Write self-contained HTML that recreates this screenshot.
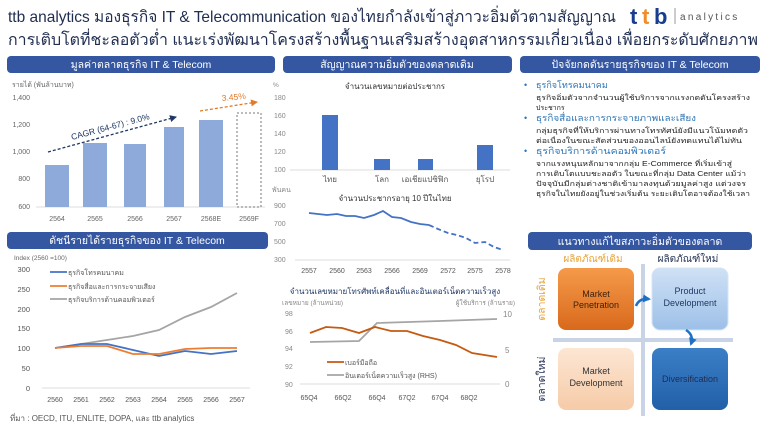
<!DOCTYPE html>
<html><head><meta charset="utf-8"><style>
html,body{margin:0;padding:0;background:#fff;}
svg{display:block;font-family:"Liberation Sans","DejaVu Sans",sans-serif;}
</style></head><body>
<svg width="768" height="429" viewBox="0 0 768 429" xmlns="http://www.w3.org/2000/svg">
<defs>
<linearGradient id="og" x1="0" y1="0" x2="0" y2="1"><stop offset="0" stop-color="#f59a4a"/><stop offset="1" stop-color="#d9691c"/></linearGradient>
<linearGradient id="lb" x1="0" y1="0" x2="0" y2="1"><stop offset="0" stop-color="#cfe1f5"/><stop offset="1" stop-color="#9dc0e8"/></linearGradient>
<linearGradient id="pe" x1="0" y1="0" x2="0" y2="1"><stop offset="0" stop-color="#fde6d3"/><stop offset="1" stop-color="#f6cba8"/></linearGradient>
<linearGradient id="db" x1="0" y1="0" x2="0" y2="1"><stop offset="0" stop-color="#3b7fc7"/><stop offset="1" stop-color="#2260a8"/></linearGradient>
<marker id="ah" markerUnits="userSpaceOnUse" markerWidth="7" markerHeight="7" refX="6" refY="3.5" orient="auto"><path d="M0,0 L7,3.5 L0,7z" fill="#1f3864"/></marker>
<marker id="ab" markerUnits="userSpaceOnUse" markerWidth="8" markerHeight="8" refX="6" refY="4" orient="auto"><path d="M0,0 L8,4 L0,8z" fill="#1f6fc5"/></marker>
<marker id="ao" markerUnits="userSpaceOnUse" markerWidth="7" markerHeight="7" refX="6" refY="3.5" orient="auto"><path d="M0,0 L7,3.5 L0,7z" fill="#e07b2a"/></marker>
</defs>
<!-- Title -->
<text x="8" y="22" font-size="16" fill="#1f2d50" textLength="608" lengthAdjust="spacingAndGlyphs">ttb analytics มองธุรกิจ IT &amp; Telecommunication ของไทยกำลังเข้าสู่ภาวะอิ่มตัวตามสัญญาณ</text>
<text x="8" y="45" font-size="16" fill="#1f2d50" textLength="750" lengthAdjust="spacingAndGlyphs">การเติบโตที่ชะลอตัวต่ำ แนะเร่งพัฒนาโครงสร้างพื้นฐานเสริมสร้างอุตสาหกรรมเกี่ยวเนื่อง เพื่อยกระดับศักยภาพ</text>
<text x="630" y="24" font-size="22" font-weight="bold" fill="#1a3c8f">t</text><text x="642" y="24" font-size="22" font-weight="bold" fill="#f28c28">t</text><text x="654" y="24" font-size="22" font-weight="bold" fill="#1a3c8f">b</text>
<line x1="675" y1="8" x2="675" y2="24" stroke="#999"/>
<text x="680" y="20" font-size="10" fill="#555" letter-spacing="2.3">analytics</text>
<!-- Section bars -->
<g fill="#3557a1">
<rect x="7" y="56" width="268" height="17" rx="4"/>
<rect x="283" y="56" width="229" height="17" rx="4"/>
<rect x="520" y="56" width="240" height="17" rx="4"/>
<rect x="7" y="232" width="261" height="17" rx="4"/>
<rect x="528" y="232" width="224" height="18" rx="4"/>
</g>
<g fill="#fff" font-size="10.5" text-anchor="middle">
<text x="141" y="68">มูลค่าตลาดธุรกิจ IT &amp; Telecom</text>
<text x="397" y="68">สัญญาณความอิ่มตัวของตลาดเดิม</text>
<text x="640" y="68">ปัจจัยกดดันรายธุรกิจของ IT &amp; Telecom</text>
<text x="137" y="244">ดัชนีรายได้รายธุรกิจของ IT &amp; Telecom</text>
<text x="640" y="245">แนวทางแก้ไขสภาวะอิ่มตัวของตลาด</text>
</g>
<!-- Chart 1 -->
<g font-size="7" fill="#666">
<text x="12" y="87">รายได้ (พันล้านบาท)</text>
<g text-anchor="end"><text x="30" y="100">1,400</text><text x="30" y="127">1,200</text><text x="30" y="154">1,000</text><text x="30" y="181">800</text><text x="30" y="209">600</text></g>
<g text-anchor="middle"><text x="57" y="221">2564</text><text x="95" y="221">2565</text><text x="135" y="221">2566</text><text x="174" y="221">2567</text><text x="211" y="221">2568E</text><text x="249" y="221">2569F</text></g>
</g>
<line x1="36" y1="207" x2="265" y2="207" stroke="#ddd"/>
<g fill="#8eaadb">
<rect x="45" y="165" width="24" height="42"/><rect x="83" y="143" width="24" height="64"/><rect x="124" y="144" width="22" height="63"/><rect x="164" y="127" width="20" height="80"/><rect x="199" y="120" width="24" height="87"/>
</g>
<rect x="237" y="113" width="24" height="94" fill="none" stroke="#777" stroke-dasharray="2,2"/>
<line x1="48" y1="152" x2="176" y2="117" stroke="#1f3864" stroke-width="1.3" stroke-dasharray="3,2" marker-end="url(#ah)"/>
<text x="72" y="140" font-size="8.5" fill="#1f3864" transform="rotate(-15 72 140)">CAGR (64-67) : 9.0%</text>
<line x1="200" y1="111" x2="257" y2="102" stroke="#e07b2a" stroke-width="1.3" stroke-dasharray="3,2" marker-end="url(#ao)"/>
<text x="222" y="101" font-size="8.5" fill="#e07b2a" transform="rotate(-5 222 101)">3.45%</text>
<!-- Chart 4 (index) -->
<g font-size="6.5" fill="#666"><text x="14" y="260">Index (2560 =100)</text></g>
<g font-size="7.5" fill="#555" text-anchor="end">
<text x="30" y="272">300</text><text x="30" y="292">250</text><text x="30" y="312">200</text><text x="30" y="331">150</text><text x="30" y="351">100</text><text x="30" y="371">50</text><text x="30" y="391">0</text>
</g>
<line x1="42" y1="388" x2="250" y2="388" stroke="#ddd"/>
<g font-size="7" fill="#555" text-anchor="middle">
<text x="55" y="402">2560</text><text x="81" y="402">2561</text><text x="107" y="402">2562</text><text x="133" y="402">2563</text><text x="159" y="402">2564</text><text x="185" y="402">2565</text><text x="211" y="402">2566</text><text x="237" y="402">2567</text>
</g>
<g fill="none" stroke-width="1.8">
<polyline stroke="#a5a5a5" points="55,348 81,344 107,340 133,336 159,330 185,317 211,307 237,293"/>
<polyline stroke="#4472c4" points="55,348 81,344 107,344 133,350 159,356 185,351 211,354 237,351"/>
<polyline stroke="#ed7d31" points="55,348 81,346 107,346 133,354 159,354 185,349 211,348 237,348"/>
<line x1="50" y1="272" x2="67" y2="272" stroke="#4472c4"/>
<line x1="50" y1="286" x2="67" y2="286" stroke="#ed7d31"/>
<line x1="50" y1="299" x2="67" y2="299" stroke="#a5a5a5"/>
</g>
<g font-size="7" fill="#555"><text x="68" y="275">ธุรกิจโทรคมนาคม</text><text x="68" y="289">ธุรกิจสื่อและการกระจายเสียง</text><text x="68" y="302">ธุรกิจบริการด้านคอมพิวเตอร์</text></g>
<text x="10" y="421" font-size="8" fill="#555">ที่มา : OECD, ITU, ENLITE, DOPA, และ ttb analytics</text>
<!-- Middle chart A -->
<text x="395" y="89" font-size="8" fill="#333" text-anchor="middle">จำนวนเลขหมายต่อประชากร</text>
<text x="273" y="87" font-size="6.5" fill="#888">%</text>
<g font-size="7" fill="#888"><text x="274" y="100">180</text><text x="274" y="118">160</text><text x="274" y="136">140</text><text x="274" y="154">120</text><text x="274" y="172">100</text></g>
<line x1="290" y1="170" x2="510" y2="170" stroke="#ddd"/>
<g fill="#4472c4"><rect x="322" y="115" width="16" height="55"/><rect x="374" y="159" width="16" height="11"/><rect x="418" y="159" width="15" height="11"/><rect x="477" y="145" width="16" height="25"/></g>
<g font-size="8" fill="#555" text-anchor="middle"><text x="330" y="182">ไทย</text><text x="382" y="182">โลก</text><text x="425" y="182">เอเชียแปซิฟิก</text><text x="485" y="182">ยุโรป</text></g>
<!-- Middle chart B -->
<text x="272" y="192" font-size="7" fill="#888">พันคน</text>
<text x="395" y="201" font-size="8" fill="#333" text-anchor="middle">จำนวนประชากรอายุ 10 ปีในไทย</text>
<g font-size="7" fill="#888"><text x="274" y="208">900</text><text x="274" y="226">700</text><text x="274" y="244">500</text><text x="274" y="262">300</text></g>
<line x1="295" y1="260" x2="510" y2="260" stroke="#ddd"/>
<g font-size="7" fill="#555" text-anchor="middle"><text x="309" y="273">2557</text><text x="337" y="273">2560</text><text x="364" y="273">2563</text><text x="392" y="273">2566</text><text x="420" y="273">2569</text><text x="448" y="273">2572</text><text x="475" y="273">2575</text><text x="503" y="273">2578</text></g>
<polyline fill="none" stroke="#4472c4" stroke-width="1.8" points="309,213 318,214 327,215 337,214 346,216 355,216 364,218 374,215 383,211 392,217 401,218 411,222 420,224 429,225"/>
<polyline fill="none" stroke="#4472c4" stroke-width="1.8" stroke-dasharray="5,3" points="429,225 438,229 448,233 457,235 466,238 475,243 485,242 494,247 503,250"/>
<!-- Middle chart C -->
<text x="395" y="294" font-size="8" fill="#1f3864" text-anchor="middle">จำนวนเลขหมายโทรศัพท์เคลื่อนที่และอินเตอร์เน็ตความเร็วสูง</text>
<text x="282" y="305" font-size="6.5" fill="#888">เลขหมาย (ล้านหน่วย)</text>
<text x="515" y="305" font-size="6.5" fill="#888" text-anchor="end">ผู้ใช้บริการ (ล้านราย)</text>
<g font-size="7" fill="#888"><text x="285" y="316">98</text><text x="285" y="334">96</text><text x="285" y="351">94</text><text x="285" y="369">92</text><text x="285" y="387">90</text></g>
<g font-size="8" fill="#888"><text x="503" y="317">10</text><text x="505" y="353">5</text><text x="505" y="387">0</text></g>
<line x1="300" y1="384" x2="500" y2="384" stroke="#ddd"/>
<g font-size="7" fill="#555" text-anchor="middle"><text x="309" y="400">65Q4</text><text x="343" y="400">66Q2</text><text x="377" y="400">66Q4</text><text x="407" y="400">67Q2</text><text x="440" y="400">67Q4</text><text x="469" y="400">68Q2</text></g>
<polyline fill="none" stroke="#a5a5a5" stroke-width="1.8" points="310,342 359,341 377,323 440,321 497,319"/>
<polyline fill="none" stroke="#c55a11" stroke-width="1.8" points="310,333 326,327 342,328 359,333 375,327 391,331 407,331 423,336 440,340 456,345 472,353 497,357"/>
<line x1="327" y1="362" x2="344" y2="362" stroke="#c55a11" stroke-width="1.8"/>
<line x1="327" y1="375" x2="344" y2="375" stroke="#a5a5a5" stroke-width="1.8"/>
<g font-size="7" fill="#555"><text x="345" y="365">เบอร์มือถือ</text><text x="345" y="378">อินเตอร์เน็ตความเร็วสูง (RHS)</text></g>
<!-- Right text -->
<g font-size="9" fill="#2e75b6">
<text x="524" y="88">•</text><text x="536" y="88">ธุรกิจโทรคมนาคม</text>
<text x="524" y="121">•</text><text x="536" y="121" textLength="160" lengthAdjust="spacingAndGlyphs">ธุรกิจสื่อและการกระจายภาพและเสียง</text>
<text x="524" y="154">•</text><text x="536" y="154" textLength="130" lengthAdjust="spacingAndGlyphs">ธุรกิจบริการด้านคอมพิวเตอร์</text>
</g>
<g font-size="7" fill="#222">
<text x="536" y="100" textLength="214" lengthAdjust="spacingAndGlyphs">ธุรกิจอิ่มตัวจากจำนวนผู้ใช้บริการจากแรงกดดันโครงสร้าง</text>
<text x="536" y="110">ประชากร</text>
<text x="536" y="133" textLength="212" lengthAdjust="spacingAndGlyphs">กลุ่มธุรกิจที่ให้บริการผ่านทางโทรทัศน์ยังมีแนวโน้มหดตัว</text>
<text x="536" y="143" textLength="206" lengthAdjust="spacingAndGlyphs">ต่อเนื่องในขณะสัดส่วนของออนไลน์ยังทดแทนได้ไม่ทัน</text>
<text x="536" y="166" textLength="196" lengthAdjust="spacingAndGlyphs">จากแรงหนุนหลักมาจากกลุ่ม E-Commerce ที่เริ่มเข้าสู่</text>
<text x="536" y="176" textLength="210" lengthAdjust="spacingAndGlyphs">การเติบโตแบบชะลอตัว ในขณะที่กลุ่ม Data Center แม้ว่า</text>
<text x="536" y="186" textLength="210" lengthAdjust="spacingAndGlyphs">ปัจจุบันมีกลุ่มต่างชาติเข้ามาลงทุนด้วยมูลค่าสูง แต่วงจร</text>
<text x="536" y="196" textLength="214" lengthAdjust="spacingAndGlyphs">ธุรกิจในไทยยังอยู่ในช่วงเริ่มต้น ระยะเติบโตอาจต้องใช้เวลา</text>
</g>
<!-- Matrix -->
<text x="593" y="262" font-size="10" fill="#e8a33a" text-anchor="middle">ผลิตภัณฑ์เดิม</text>
<text x="688" y="262" font-size="10" fill="#1f2d50" text-anchor="middle">ผลิตภัณฑ์ใหม่</text>
<line x1="643" y1="264" x2="643" y2="416" stroke="#c9d3e6" stroke-width="4"/>
<line x1="553" y1="340" x2="733" y2="340" stroke="#c9d3e6" stroke-width="4"/>
<rect x="558" y="268" width="76" height="62" rx="8" fill="url(#og)"/>
<rect x="652" y="268" width="76" height="62" rx="8" fill="url(#lb)" stroke="#d6e4f5"/>
<rect x="558" y="348" width="76" height="62" rx="8" fill="url(#pe)"/>
<rect x="652" y="348" width="76" height="62" rx="8" fill="url(#db)"/>
<g font-size="9" text-anchor="middle">
<text x="596" y="297" fill="#3a2210">Market</text><text x="596" y="308" fill="#3a2210">Penetration</text>
<text x="690" y="294" fill="#1f3864">Product</text><text x="690" y="306" fill="#1f3864">Development</text>
<text x="596" y="374" fill="#333">Market</text><text x="596" y="386" fill="#333">Development</text>
<text x="690" y="382" fill="#1f2d50">Diversification</text>
</g>
<path d="M636,306 Q639,298 649,299" fill="none" stroke="#1f6fc5" stroke-width="2.5" marker-end="url(#ab)"/>
<path d="M686,330 Q694,335 691,344" fill="none" stroke="#1f6fc5" stroke-width="2.5" marker-end="url(#ab)"/>
<text x="0" y="0" font-size="10.5" fill="#e8a33a" text-anchor="middle" transform="translate(545 299) rotate(-90)">ตลาดเดิม</text>
<text x="0" y="0" font-size="10.5" fill="#1f2d50" text-anchor="middle" transform="translate(545 379) rotate(-90)">ตลาดใหม่</text>
</svg>
</body></html>
